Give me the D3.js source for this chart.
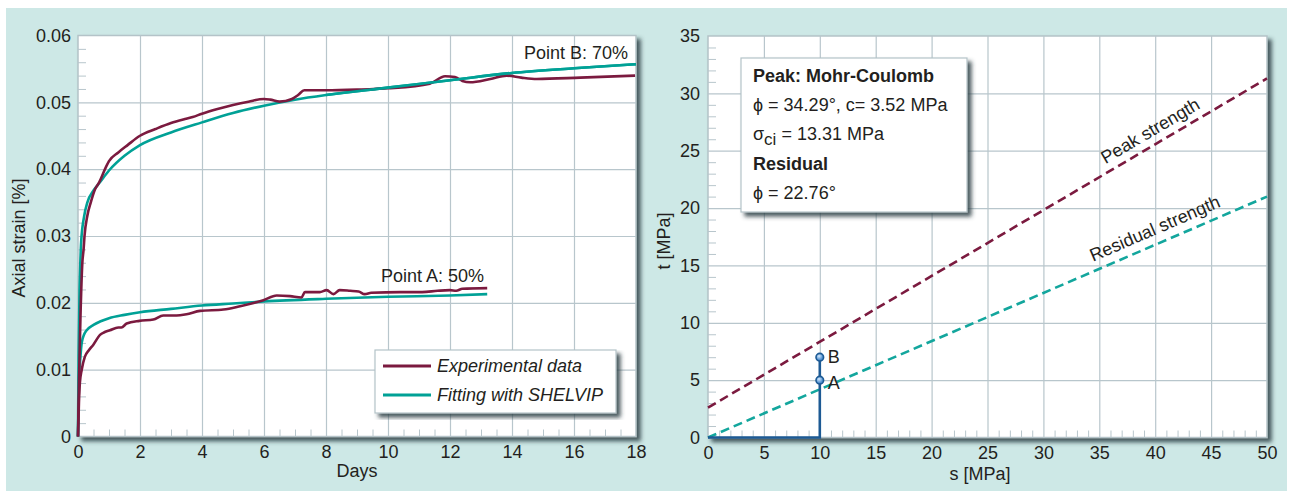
<!DOCTYPE html>
<html>
<head>
<meta charset="utf-8">
<script src="https://cdn.jsdelivr.net/npm/d3@7"></script>
<style>
  body { margin: 0; background: #fff; }
  svg { display: block; font-family: "Liberation Sans", Arial, sans-serif; }
  .tick text { fill: #231f20; font-size: 18px; }
  .grid line { stroke: #b8c6cc; stroke-width: 1.2; }
  .minor line { stroke: #b8c6cc; stroke-width: 1; }
  .domain { display: none; }
</style>
</head>
<body>
<div id="vis"></div>
<script>
// ---- left chart: creep curves ----
const dayTicks = [0, 2, 4, 6, 8, 10, 12, 14, 16, 18];
const strainTicks = [0, 0.01, 0.02, 0.03, 0.04, 0.05, 0.06];

// Point B (70%)
const daysB_exp   = [0, 0.03, 0.08, 0.14, 0.18, 0.21, 0.3, 0.41, 0.55, 0.68, 0.9, 1.0, 1.3, 1.6, 2.0, 2.5, 3.0, 3.45, 3.7, 4.0, 4.5, 5.0, 5.5, 6.0, 6.2, 6.5, 6.9, 7.1, 7.3, 8.0, 9.0, 10.0, 11.35, 11.84, 12.16, 12.4, 12.65, 13.3, 13.83, 14.3, 14.8, 16.2, 17.97];
const strainB_exp = [0, 0.008, 0.018, 0.026, 0.028, 0.030, 0.033, 0.035, 0.037, 0.038, 0.0403, 0.0412, 0.0425, 0.0436, 0.045, 0.046, 0.0469, 0.0475, 0.0478, 0.0483, 0.049, 0.0496, 0.0501, 0.0505, 0.0504, 0.0501, 0.0505, 0.0511, 0.0518, 0.0518, 0.0519, 0.0521, 0.0528, 0.0539, 0.0538, 0.0532, 0.053, 0.0535, 0.054, 0.0537, 0.0535, 0.0537, 0.054];
const daysB_fit   = [0, 0.02, 0.05, 0.075, 0.1, 0.2, 0.3, 0.5, 0.7, 1.0, 1.5, 2, 3, 4, 5, 6, 7, 8, 10, 12, 14, 16, 18];
const strainB_fit = [0, 0.012, 0.022, 0.026, 0.029, 0.033, 0.035, 0.0368, 0.038, 0.0398, 0.042, 0.0436, 0.0455, 0.047, 0.0484, 0.0495, 0.0504, 0.0511, 0.0522, 0.0533, 0.0544, 0.0551, 0.0557];

// Point A (50%)
const daysA_exp   = [0, 0.03, 0.06, 0.12, 0.22, 0.35, 0.49, 0.71, 0.85, 1.03, 1.3, 1.4, 1.57, 1.98, 2.43, 2.75, 3.18, 3.5, 3.94, 4.69, 5.23, 5.98, 6.41, 6.84, 7.21, 7.32, 7.8, 8.02, 8.24, 8.44, 8.78, 9.05, 9.25, 9.46, 10.4, 11.1, 11.6, 12.0, 12.2, 12.4, 13.2];
const strainA_exp = [0, 0.005, 0.008, 0.010, 0.0119, 0.0129, 0.0137, 0.0152, 0.0156, 0.0159, 0.0163, 0.0163, 0.0169, 0.0173, 0.0175, 0.0181, 0.0181, 0.0183, 0.0188, 0.019, 0.0195, 0.0204, 0.0211, 0.021, 0.0208, 0.0216, 0.0216, 0.0219, 0.0213, 0.0219, 0.0218, 0.0217, 0.0213, 0.0215, 0.0216, 0.0216, 0.0218, 0.0219, 0.0218, 0.0221, 0.0222];
const daysA_fit   = [0, 0.03, 0.08, 0.12, 0.2, 0.28, 0.5, 0.71, 1, 1.5, 2, 3, 4, 5, 6, 8, 10, 12, 13.2];
const strainA_fit = [0, 0.008, 0.012, 0.014, 0.0153, 0.0159, 0.0167, 0.0172, 0.0177, 0.0182, 0.0186, 0.0191, 0.0196, 0.0199, 0.0202, 0.0206, 0.0209, 0.0211, 0.0213];

const legendLabels = ["Experimental data", "Fitting with SHELVIP"];

// ---- right chart: s-t plane ----
const sTicks = [0, 5, 10, 15, 20, 25, 30, 35, 40, 45, 50];
const tTicks = [0, 5, 10, 15, 20, 25, 30, 35];
const peakLine_s = [0, 50];
const peakLine_t = [2.6, 31.3];
const residualLine_s = [0, 50];
const residualLine_t = [0, 21.0];
const stressPath_s = [0, 10, 10];
const stressPath_t = [0, 0, 7];
const pointNames = ["A", "B"];
const point_s = [10, 10];
const point_t = [5, 7];
const infoLines = ["Peak: Mohr-Coulomb", "ϕ = 34.29°, c= 3.52 MPa", "σci = 13.31 MPa", "Residual", "ϕ = 22.76°"];

const COLOR_EXP = "#7b1a3f";
const COLOR_FIT = "#00a196";
const COLOR_PATH = "#1d5a94";

const W = 1290, H = 491;
const svg = d3.select("#vis").append("svg").attr("width", W).attr("height", H);

const defs = svg.append("defs");
const shadow = defs.append("filter").attr("id", "shadow")
    .attr("x", "-5%").attr("y", "-5%").attr("width", "115%").attr("height", "115%");
shadow.append("feGaussianBlur").attr("in", "SourceAlpha").attr("stdDeviation", 2).attr("result", "b");
shadow.append("feOffset").attr("in", "b").attr("dx", 4).attr("dy", 4).attr("result", "o");
shadow.append("feFlood").attr("flood-color", "#2c3e44").attr("flood-opacity", 0.85);
shadow.append("feComposite").attr("in2", "o").attr("operator", "in");
const mrg = shadow.append("feMerge");
mrg.append("feMergeNode");
mrg.append("feMergeNode").attr("in", "SourceGraphic");

const grad = defs.append("radialGradient").attr("id", "dot").attr("cx", "40%").attr("cy", "35%");
grad.append("stop").attr("offset", "0%").attr("stop-color", "#d6ebff");
grad.append("stop").attr("offset", "100%").attr("stop-color", "#4f8fcf");

// teal panel
svg.append("rect").attr("x", 6).attr("y", 8).attr("width", 1281).attr("height", 483).attr("fill", "#cde8e6");

function zipPts(xs, ys) { return xs.map((x, i) => [x, ys[i]]); }

function minorValues(majors, n) {
    const out = [];
    for (let i = 0; i < majors.length - 1; i++) {
        const step = (majors[i + 1] - majors[i]) / n;
        for (let k = 1; k < n; k++) out.push(majors[i] + step * k);
    }
    return out;
}

// frame + grid + ticks shared by both charts
function drawFrame(x, y, xTicks, yTicks, xMinorN, yMinorN, yFmt, yPad) {
    const [x0, x1] = x.range();
    const [y0, y1] = y.range();
    const g = svg.append("g");
    g.append("rect").attr("x", x0).attr("y", y1).attr("width", x1 - x0).attr("height", y0 - y1)
        .attr("fill", "#fff").attr("stroke", "#b4c3c8").attr("stroke-width", 1.5)
        .attr("filter", "url(#shadow)");

    g.append("g").attr("class", "grid").attr("transform", `translate(0,${y0})`)
        .call(d3.axisBottom(x).tickValues(xTicks.slice(1, -1)).tickSize(-(y0 - y1)).tickFormat(""));
    g.append("g").attr("class", "grid").attr("transform", `translate(${x0},0)`)
        .call(d3.axisLeft(y).tickValues(yTicks.slice(1, -1)).tickSize(-(x1 - x0)).tickFormat(""));
    g.append("g").attr("class", "minor").attr("transform", `translate(0,${y0})`)
        .call(d3.axisBottom(x).tickValues(minorValues(xTicks, xMinorN)).tickSize(-7).tickFormat(""));
    g.append("g").attr("class", "minor").attr("transform", `translate(${x0},0)`)
        .call(d3.axisLeft(y).tickValues(minorValues(yTicks, yMinorN)).tickSize(-8).tickFormat(""));

    g.append("g").attr("transform", `translate(0,${y0})`)
        .call(d3.axisBottom(x).tickValues(xTicks).tickSize(0).tickPadding(9).tickFormat(d3.format("d")));
    g.append("g").attr("transform", `translate(${x0},0)`)
        .call(d3.axisLeft(y).tickValues(yTicks).tickSize(0).tickPadding(yPad).tickFormat(yFmt));
    return g;
}

// ================= left chart =================
const xDays = d3.scaleLinear().domain([0, 18]).range([78, 636]);
const yStrain = d3.scaleLinear().domain([0, 0.06]).range([436.5, 35.5]);

drawFrame(xDays, yStrain, dayTicks, strainTicks, 4, 5, d => d === 0 ? "0" : d.toFixed(2), 7);

const lineL = d3.line().x(d => xDays(d[0])).y(d => yStrain(d[1])).curve(d3.curveMonotoneX);
const creep = [
    { pts: zipPts(daysA_fit, strainA_fit), color: COLOR_FIT },
    { pts: zipPts(daysB_fit, strainB_fit), color: COLOR_FIT },
    { pts: zipPts(daysA_exp, strainA_exp), color: COLOR_EXP },
    { pts: zipPts(daysB_exp, strainB_exp), color: COLOR_EXP }
];
svg.append("g").selectAll("path").data(creep).join("path")
    .attr("d", d => lineL(d.pts))
    .attr("fill", "none").attr("stroke", d => d.color).attr("stroke-width", 2.6)
    .attr("stroke-linejoin", "round");
// fit of B drawn on top at the end like the original
svg.append("path").attr("d", lineL(zipPts(daysB_fit, strainB_fit).filter(p => p[0] >= 8)))
    .attr("fill", "none").attr("stroke", COLOR_FIT).attr("stroke-width", 2.6);

svg.append("text").attr("x", 628).attr("y", 59).attr("text-anchor", "end")
    .attr("font-size", 18).attr("fill", "#231f20").text("Point B: 70%");
svg.append("text").attr("x", 484).attr("y", 282).attr("text-anchor", "end")
    .attr("font-size", 18).attr("fill", "#231f20").text("Point A: 50%");

svg.append("text").attr("x", 357).attr("y", 477).attr("text-anchor", "middle")
    .attr("font-size", 18).attr("fill", "#231f20").text("Days");
svg.append("text").attr("transform", "translate(25,238) rotate(-90)").attr("text-anchor", "middle")
    .attr("font-size", 18).attr("fill", "#231f20").text("Axial strain [%]");

// legend
const leg = svg.append("g");
leg.append("rect").attr("x", 375).attr("y", 350).attr("width", 241).attr("height", 63)
    .attr("fill", "#fff").attr("stroke", "#b4c3c8").attr("stroke-width", 1.2).attr("filter", "url(#shadow)");
leg.selectAll("line").data(legendLabels).join("line")
    .attr("x1", 383).attr("x2", 431).attr("y1", (d, i) => 366 + i * 29).attr("y2", (d, i) => 366 + i * 29)
    .attr("stroke", (d, i) => i === 0 ? COLOR_EXP : COLOR_FIT).attr("stroke-width", 3);
leg.selectAll("text").data(legendLabels).join("text")
    .attr("x", 437).attr("y", (d, i) => 372 + i * 29)
    .attr("font-size", 18).attr("font-style", "italic").attr("fill", "#231f20").text(d => d);

// ================= right chart =================
const xS = d3.scaleLinear().domain([0, 50]).range([708, 1267]);
const yT = d3.scaleLinear().domain([0, 35]).range([437.5, 36]);

drawFrame(xS, yT, sTicks, tTicks, 5, 5, d3.format("d"), 8);

const lineR = d3.line().x(d => xS(d[0])).y(d => yT(d[1]));
svg.append("path").attr("d", lineR(zipPts(peakLine_s, peakLine_t)))
    .attr("stroke", COLOR_EXP).attr("stroke-width", 2.6).attr("stroke-dasharray", "9,5").attr("fill", "none");
svg.append("path").attr("d", lineR(zipPts(residualLine_s, residualLine_t)))
    .attr("stroke", "#13a69d").attr("stroke-width", 2.6).attr("stroke-dasharray", "9,5").attr("fill", "none");

// rotated labels along the strength lines
function lineLabel(sArr, tArr, sAt, txt, off) {
    const ang = Math.atan2(yT(tArr[1]) - yT(tArr[0]), xS(sArr[1]) - xS(sArr[0])) * 180 / Math.PI;
    const tAt = tArr[0] + (tArr[1] - tArr[0]) * (sAt - sArr[0]) / (sArr[1] - sArr[0]);
    svg.append("text")
        .attr("transform", `translate(${xS(sAt)},${yT(tAt)}) rotate(${ang})`)
        .attr("text-anchor", "middle").attr("dy", off)
        .attr("font-size", 18).attr("fill", "#231f20").text(txt);
}
lineLabel(peakLine_s, peakLine_t, 40.2, "Peak strength", -8);
lineLabel(residualLine_s, residualLine_t, 40.5, "Residual strength", -9);

// stress path
svg.append("path").attr("d", lineR(zipPts(stressPath_s, stressPath_t)))
    .attr("stroke", COLOR_PATH).attr("stroke-width", 2.6).attr("fill", "none");
svg.append("g").selectAll("circle").data(pointNames).join("circle")
    .attr("cx", (d, i) => xS(point_s[i])).attr("cy", (d, i) => yT(point_t[i])).attr("r", 3.8)
    .attr("fill", "url(#dot)").attr("stroke", COLOR_PATH).attr("stroke-width", 1.6);
svg.append("g").selectAll("text").data(pointNames).join("text")
    .attr("x", (d, i) => xS(point_s[i]) + 8).attr("y", (d, i) => yT(point_t[i]) + (i === 0 ? 9 : 6))
    .attr("font-size", 18).attr("fill", "#231f20").text(d => d);

svg.append("text").attr("x", 980).attr("y", 480).attr("text-anchor", "middle")
    .attr("font-size", 18).attr("fill", "#231f20").text("s [MPa]");
svg.append("text").attr("transform", "translate(670,241) rotate(-90)").attr("text-anchor", "middle")
    .attr("font-size", 18).attr("fill", "#231f20").text("t [MPa]");

// info box
const info = svg.append("g");
info.append("rect").attr("x", 741).attr("y", 58).attr("width", 226).attr("height", 154)
    .attr("fill", "#fff").attr("stroke", "#b4c3c8").attr("stroke-width", 1.2).attr("filter", "url(#shadow)");
infoLines.forEach((line, i) => {
    const t = info.append("text").attr("x", 753).attr("y", 82 + i * 29.2)
        .attr("font-size", 18).attr("fill", "#231f20")
        .attr("font-weight", (i === 0 || i === 3) ? "bold" : "normal");
    if (line.startsWith("σci")) {
        t.append("tspan").text("σ");
        t.append("tspan").attr("dy", 5).attr("font-size", 17).text("ci");
        t.append("tspan").attr("dy", -5).text(line.slice(3));
    } else {
        t.text(line);
    }
});
</script>
</body>
</html>
